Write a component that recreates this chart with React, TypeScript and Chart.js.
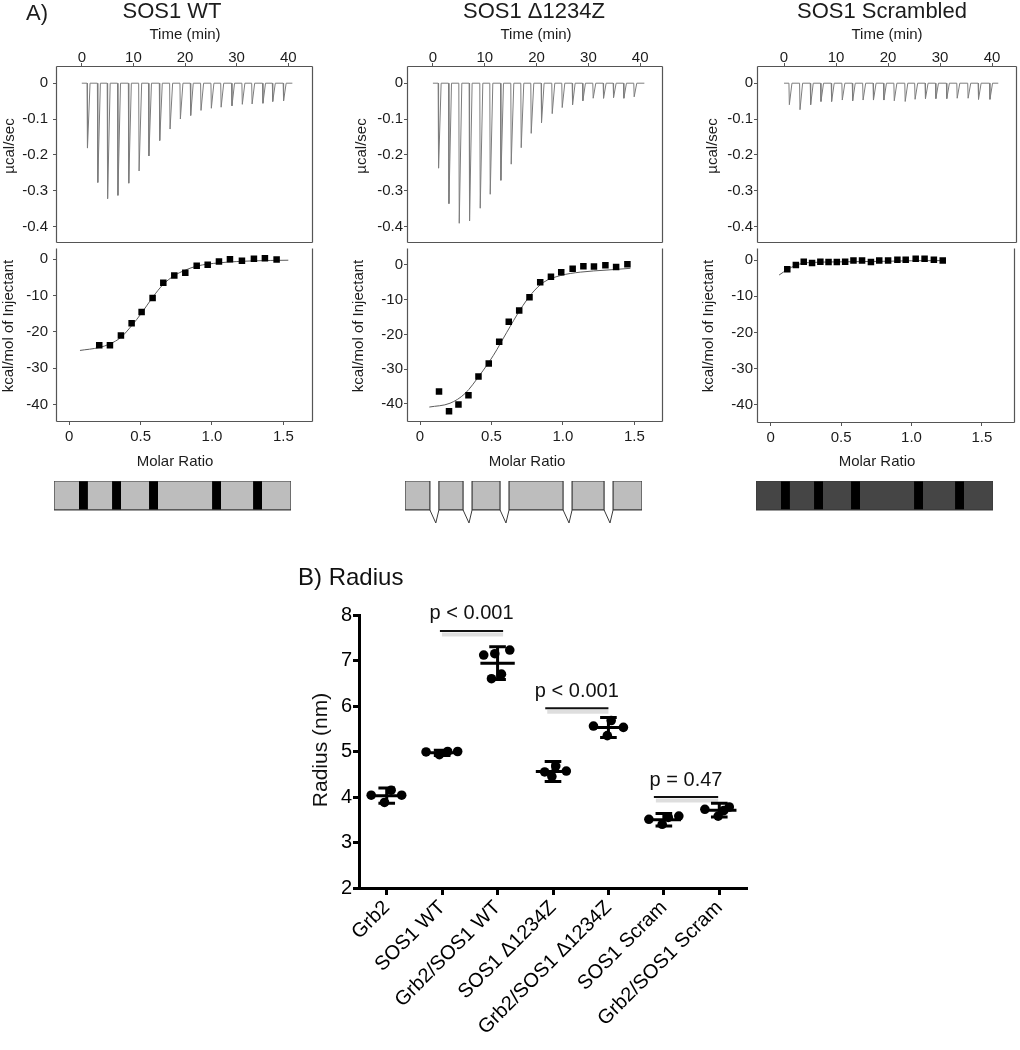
import React, { useEffect, useRef } from "react";
import { Chart, registerables } from "chart.js";

Chart.register(...registerables);

const FONT = "'Liberation Sans', Arial, Helvetica, sans-serif";
const TXT = "#1c1c1c";
const AX = "#555555";

// ---------------- Panel A : ITC data ----------------
const panelTitles = ["SOS1 WT", "SOS1 Δ1234Z", "SOS1 Scrambled"];
const timeTicks = [0, 10, 20, 30, 40];
const powerTicks = [0, -0.1, -0.2, -0.3, -0.4];
const powerTickLabels = ["0", "-0.1", "-0.2", "-0.3", "-0.4"];
const heatTicks = [0, -10, -20, -30, -40];
const heatTickLabels = ["0", "-10", "-20", "-30", "-40"];
const ratioTicks = [0, 0.5, 1.0, 1.5];
const ratioTickLabels = ["0", "0.5", "1.0", "1.5"];
const runEndTimes = [40.8, 40.8, 41.2];

// SOS1 WT
const wtInjTimes = [1.1, 3.1, 5.0, 7.0, 9.1, 11.1, 13.0, 15.1, 17.1, 19.1, 21.1, 23.1, 25.1, 27.0, 29.1, 31.1, 33.0, 35.1, 37.0, 39.1];
const wtPeaks = [-0.181, -0.277, -0.322, -0.313, -0.279, -0.245, -0.203, -0.16, -0.128, -0.1, -0.09, -0.076, -0.07, -0.067, -0.063, -0.059, -0.058, -0.056, -0.051, -0.049];
const wtRatio = [0.21, 0.285, 0.362, 0.437, 0.507, 0.584, 0.659, 0.736, 0.813, 0.893, 0.97, 1.049, 1.126, 1.21, 1.294, 1.371, 1.453];
const wtHeat = [-23.7, -23.7, -21.0, -17.6, -14.5, -10.7, -6.5, -4.5, -3.7, -1.8, -1.5, -0.6, 0.0, -0.45, 0.1, 0.27, -0.1];
const wtFitRatio = [0.075, 0.21, 0.285, 0.362, 0.437, 0.507, 0.584, 0.659, 0.736, 0.813, 0.893, 1.049, 1.29, 1.535];
const wtFitHeat = [-25.1, -24.3, -23.3, -21.5, -18.3, -14.8, -10.5, -6.9, -4.5, -3.0, -1.9, -1.0, -0.45, -0.27];

// SOS1 Δ1234Z
const dzInjTimes = [1.09, 3.09, 5.08, 7.07, 9.13, 11.06, 13.12, 15.11, 17.04, 18.97, 20.96, 23.02, 24.95, 26.95, 28.94, 30.93, 32.93, 34.86, 36.85, 38.84];
const dzPeaks = [-0.237, -0.336, -0.391, -0.384, -0.349, -0.31, -0.271, -0.226, -0.18, -0.14, -0.11, -0.085, -0.068, -0.06, -0.049, -0.042, -0.042, -0.04, -0.042, -0.038];
const dzRatio = [0.133, 0.203, 0.269, 0.339, 0.409, 0.481, 0.554, 0.621, 0.694, 0.766, 0.841, 0.916, 0.988, 1.068, 1.143, 1.217, 1.297, 1.372, 1.451];
const dzHeat = [-36.4, -42.1, -40.2, -37.5, -32.1, -28.4, -22.1, -16.4, -13.1, -9.3, -5.0, -3.4, -2.1, -1.1, -0.4, -0.5, -0.1, -0.6, 0.2];
const dzFitRatio = [0.065, 0.21, 0.315, 0.42, 0.514, 0.607, 0.701, 0.783, 0.865, 0.981, 1.121, 1.308, 1.472];
const dzFitHeat = [-40.9, -39.8, -37.0, -31.6, -26.0, -19.4, -12.9, -8.2, -5.0, -3.1, -2.1, -1.5, -1.0];

// SOS1 Scrambled
const scInjTimes = [1.02, 3.07, 5.12, 7.1, 9.15, 11.2, 13.2, 15.2, 17.2, 19.2, 21.2, 23.3, 25.2, 27.2, 29.2, 31.3, 33.3, 35.4, 37.4, 39.6];
const scPeaks = [-0.06, -0.074, -0.06, -0.051, -0.051, -0.047, -0.049, -0.047, -0.047, -0.047, -0.049, -0.051, -0.045, -0.043, -0.043, -0.043, -0.042, -0.042, -0.045, -0.045];
const scRatio = [0.118, 0.179, 0.235, 0.294, 0.353, 0.411, 0.47, 0.529, 0.588, 0.649, 0.712, 0.771, 0.834, 0.9, 0.959, 1.03, 1.093, 1.159, 1.222];
const scHeat = [-2.5, -1.3, -0.4, -0.8, -0.4, -0.5, -0.5, -0.4, -0.1, -0.1, -0.5, -0.1, -0.1, 0.1, 0.1, 0.4, 0.4, 0.1, -0.1];
const scFitRatio = [0.06, 0.118, 0.179, 0.235, 0.3, 0.5, 0.8, 1.0, 1.222];
const scFitHeat = [-4.1, -2.6, -1.4, -0.8, -0.6, -0.45, -0.3, -0.15, -0.1];

// Construct schematic: motif positions (percent of construct length)
const motifStart = [10.5, 24.5, 40.1, 66.7, 84.0];
const motifEnd = [14.3, 28.3, 43.9, 70.5, 87.8];

// ---------------- Panel B : Radius data ----------------
const radiusCategories = ["Grb2", "SOS1 WT", "Grb2/SOS1 WT", "SOS1 Δ1234Z", "Grb2/SOS1 Δ1234Z", "SOS1 Scram", "Grb2/SOS1 Scram"];
const radiusTicks = [2, 3, 4, 5, 6, 7, 8];
const grb2Radius = [4.04, 3.88, 4.15, 4.04];
const grb2Jitter = [-0.28, -0.04, 0.08, 0.27];
const sosWtRadius = [4.99, 4.93, 5.0, 5.0];
const sosWtJitter = [-0.29, -0.05, 0.1, 0.28];
const cplxWtRadius = [7.12, 7.15, 7.23, 6.6, 6.7];
const cplxWtJitter = [-0.25, -0.05, 0.22, -0.11, 0.07];
const sosDzRadius = [4.55, 4.45, 4.68, 4.57];
const sosDzJitter = [-0.15, -0.02, 0.05, 0.24];
const cplxDzRadius = [5.56, 5.35, 5.68, 5.53];
const cplxDzJitter = [-0.27, -0.02, 0.05, 0.27];
const sosScRadius = [3.51, 3.4, 3.55, 3.58];
const sosScJitter = [-0.27, -0.03, 0.08, 0.27];
const cplxScRadius = [3.73, 3.58, 3.7, 3.78];
const cplxScJitter = [-0.26, -0.02, 0.08, 0.18];
const radiusMean = [4.03, 4.97, 6.94, 4.56, 5.53, 3.5, 3.71];
const radiusSD = [0.17, 0.06, 0.36, 0.22, 0.22, 0.14, 0.15];
const sigStart = [0.96, 2.86, 4.82];
const sigEnd = [2.1, 4.0, 5.98];
const sigLevel = [7.65, 5.95, 4.0];
const sigLabels = ["p < 0.001", "p < 0.001", "p = 0.47"];

// ---------------- assembled tables ----------------
const itcData = [
  { injTimes: wtInjTimes, peaks: wtPeaks, ratio: wtRatio, heat: wtHeat, fitRatio: wtFitRatio, fitHeat: wtFitHeat },
  { injTimes: dzInjTimes, peaks: dzPeaks, ratio: dzRatio, heat: dzHeat, fitRatio: dzFitRatio, fitHeat: dzFitHeat },
  { injTimes: scInjTimes, peaks: scPeaks, ratio: scRatio, heat: scHeat, fitRatio: scFitRatio, fitHeat: scFitHeat },
];

const itcLayouts = [
  { canvasLeft: 0, areaLeft: 56, areaRight: 313, areaTop: 66, divider: 243, areaBottom: 422, titleX: 172, timeTitleX: 185, ratioTitleX: 175,
    timeMin: -5.0, timeMax: 44.8, heatMin: -44.8, heatMax: 3.2, ratioMin: -0.093, ratioMax: 1.708, yTickPad: 5, powTitleX: 10, heatTitleX: 9 },
  { canvasLeft: 340, areaLeft: 407, areaRight: 663, areaTop: 66, divider: 243, areaBottom: 422, titleX: 534, timeTitleX: 536, ratioTitleX: 527,
    timeMin: -5.0, timeMax: 44.4, heatMin: -45.2, heatMax: 4.96, ratioMin: -0.091, ratioMax: 1.7, yTickPad: 1, powTitleX: 362, heatTitleX: 359 },
  { canvasLeft: 680, areaLeft: 757, areaRight: 1017, areaTop: 66, divider: 243, areaBottom: 423, titleX: 882, timeTitleX: 887, ratioTitleX: 877,
    timeMin: -5.2, timeMax: 44.8, heatMin: -45.1, heatMax: 3.5, ratioMin: -0.097, ratioMax: 1.738, yTickPad: 1, powTitleX: 713, heatTitleX: 709 },
];

const schematicLefts = [54, 405, 756];
const schematicKinds = ["wt", "deleted", "scrambled"];

const POWER_MIN = -0.446;
const POWER_MAX = 0.048;

// ---------------- helpers ----------------
type TextItem = { text: string; x: number; y: number; size: number; align?: CanvasTextAlign; rotate?: number; color?: string };

function textPlugin(id: string, items: TextItem[]) {
  return {
    id,
    afterDraw(chart: any) {
      const ctx = chart.ctx as CanvasRenderingContext2D;
      ctx.save();
      for (const it of items) {
        ctx.save();
        ctx.font = `${it.size}px ${FONT}`;
        ctx.fillStyle = it.color || TXT;
        ctx.textAlign = it.align || "center";
        ctx.textBaseline = "middle";
        ctx.translate(it.x, it.y);
        if (it.rotate) ctx.rotate(it.rotate);
        ctx.fillText(it.text, 0, 0);
        ctx.restore();
      }
      ctx.restore();
    },
  };
}

function boxPlugin(id: string, sides: { top: boolean; right: boolean; bottom: boolean; left: boolean }) {
  return {
    id,
    afterDatasetsDraw(chart: any) {
      const { left, right, top, bottom } = chart.chartArea;
      const ctx = chart.ctx as CanvasRenderingContext2D;
      const l = Math.round(left) + 0.5, r = Math.round(right) - 0.5, t = Math.round(top) + 0.5, b = Math.round(bottom) - 0.5;
      ctx.save();
      ctx.strokeStyle = AX;
      ctx.lineWidth = 1.2;
      ctx.beginPath();
      if (sides.top) { ctx.moveTo(l, t); ctx.lineTo(r, t); }
      if (sides.right) { ctx.moveTo(r, t); ctx.lineTo(r, b); }
      if (sides.bottom) { ctx.moveTo(l, b); ctx.lineTo(r, b); }
      if (sides.left) { ctx.moveTo(l, t); ctx.lineTo(l, b); }
      ctx.stroke();
      ctx.restore();
    },
  };
}

// remove the automatic label-overflow padding so the plot area sits exactly where set
const noPad = (s: any) => { s.paddingTop = 0; s.paddingBottom = 0; s.paddingLeft = 0; s.paddingRight = 0; };

function thermogramPoints(times: number[], peaks: number[], end: number) {
  const pts: { x: number; y: number }[] = [{ x: 0, y: 0 }];
  times.forEach((t, i) => {
    pts.push({ x: t - 0.08, y: 0 }, { x: t, y: peaks[i] }, { x: t + 0.5, y: 0 });
  });
  pts.push({ x: end, y: 0 });
  return pts;
}

const tickFont = { family: FONT, size: 15 };

function makeThermo(i: number) {
  const L = itcLayouts[i];
  const d = itcData[i];
  const W = 340;
  const H = L.divider + 1;
  const ox = L.canvasLeft;
  return {
    type: "line",
    data: {
      datasets: [
        { data: thermogramPoints(d.injTimes, d.peaks, runEndTimes[i]), borderColor: "#7d7d7d", borderWidth: 1, pointRadius: 0, tension: 0, fill: false },
      ],
    },
    options: {
      responsive: false,
      animation: false,
      events: [],
      layout: { padding: { left: 0, top: 0, right: W - (L.areaRight - ox), bottom: H - L.divider } },
      plugins: { legend: { display: false }, tooltip: { enabled: false } },
      scales: {
        x: {
          type: "linear",
          position: "top",
          min: L.timeMin,
          max: L.timeMax,
          afterBuildTicks: (s: any) => { s.ticks = timeTicks.map((v) => ({ value: v })); },
          afterFit: (s: any) => { s.height = L.areaTop; noPad(s); },
          ticks: { font: tickFont, color: TXT, padding: -4, maxRotation: 0, autoSkip: false, callback: (v: any) => String(v) },
          grid: { drawOnChartArea: false, drawTicks: true, tickLength: 3, color: AX },
          border: { display: false },
        },
        y: {
          type: "linear",
          min: POWER_MIN,
          max: POWER_MAX,
          afterBuildTicks: (s: any) => { s.ticks = powerTicks.map((v) => ({ value: v })); },
          afterFit: (s: any) => { s.width = L.areaLeft - ox; noPad(s); },
          ticks: { font: tickFont, color: TXT, padding: L.yTickPad, autoSkip: false, callback: (_v: any, idx: number) => powerTickLabels[idx] },
          grid: { drawOnChartArea: false, drawTicks: true, tickLength: 3, color: AX },
          border: { display: false },
        },
      },
    },
    plugins: [
      boxPlugin("box" + i, { top: true, right: true, bottom: true, left: true }),
      textPlugin("txt" + i, [
        ...(i === 0 ? [{ text: "A)", x: 26, y: 14, size: 22, align: "left" as CanvasTextAlign }] : []),
        { text: panelTitles[i], x: L.titleX - ox, y: 12, size: 22 },
        { text: "Time (min)", x: L.timeTitleX - ox, y: 35, size: 15 },
        { text: "µcal/sec", x: L.powTitleX - ox, y: 146, size: 15, rotate: -Math.PI / 2 },
      ]),
    ],
  };
}

function makeIsotherm(i: number) {
  const L = itcLayouts[i];
  const d = itcData[i];
  const W = 340;
  const H = 475 - L.divider;
  const ox = L.canvasLeft;
  const areaH = L.areaBottom - L.divider;
  return {
    type: "line",
    data: {
      datasets: [
        {
          data: d.ratio.map((x, k) => ({ x, y: d.heat[k] })),
          showLine: false,
          pointStyle: "rect",
          pointRadius: 4.6,
          backgroundColor: "#000",
          borderColor: "#000",
          borderWidth: 0,
          order: 0,
        },
        {
          data: d.fitRatio.map((x, k) => ({ x, y: d.fitHeat[k] })),
          borderColor: "#5a5a5a",
          borderWidth: 1,
          pointRadius: 0,
          cubicInterpolationMode: "monotone",
          fill: false,
          order: 1,
        },
      ],
    },
    options: {
      responsive: false,
      animation: false,
      events: [],
      layout: { padding: { left: 0, top: 0, right: W - (L.areaRight - ox), bottom: 0 } },
      plugins: { legend: { display: false }, tooltip: { enabled: false } },
      scales: {
        x: {
          type: "linear",
          position: "bottom",
          min: L.ratioMin,
          max: L.ratioMax,
          afterBuildTicks: (s: any) => { s.ticks = ratioTicks.map((v) => ({ value: v })); },
          afterFit: (s: any) => { s.height = H - areaH; noPad(s); },
          ticks: { font: tickFont, color: TXT, padding: 3, maxRotation: 0, autoSkip: false, callback: (_v: any, idx: number) => ratioTickLabels[idx] },
          grid: { drawOnChartArea: false, drawTicks: true, tickLength: 3, color: AX },
          border: { display: false },
        },
        y: {
          type: "linear",
          min: L.heatMin,
          max: L.heatMax,
          afterBuildTicks: (s: any) => { s.ticks = heatTicks.map((v) => ({ value: v })); },
          afterFit: (s: any) => { s.width = L.areaLeft - ox; noPad(s); },
          ticks: { font: tickFont, color: TXT, padding: L.yTickPad, autoSkip: false, callback: (_v: any, idx: number) => heatTickLabels[idx] },
          grid: { drawOnChartArea: false, drawTicks: true, tickLength: 3, color: AX },
          border: { display: false },
        },
      },
    },
    plugins: [
      boxPlugin("ibox" + i, { top: false, right: true, bottom: true, left: true }),
      textPlugin("itxt" + i, [
        { text: "Molar Ratio", x: L.ratioTitleX - ox, y: 462 - L.divider, size: 15 },
        { text: "kcal/mol of Injectant", x: L.heatTitleX - ox, y: 326 - L.divider, size: 15, rotate: -Math.PI / 2 },
      ]),
    ],
  };
}

function rect(s: number, e: number) {
  return [{ x: s, y: 1 }, { x: e, y: 1 }];
}

function makeSchematic(i: number) {
  const kind = schematicKinds[i];
  const datasets: any[] = [];
  const outlineColor = "#3a3a3a";
  if (kind === "deleted") {
    const blockStarts = [0, ...motifEnd];
    const blockEnds = [...motifStart, 100];
    const outline: any[] = [];
    blockStarts.forEach((s, k) => {
      const e = blockEnds[k];
      datasets.push({ data: rect(s, e), fill: "origin", backgroundColor: "#bdbdbd", borderWidth: 0, pointRadius: 0, order: 3 });
      outline.push({ x: s, y: 0 }, { x: s, y: 1 }, { x: e, y: 1 }, { x: e, y: 0 }, { x: s, y: 0 }, { x: s, y: null });
    });
    const vees: any[] = [];
    motifStart.forEach((s, k) => {
      const e = motifEnd[k];
      vees.push({ x: s, y: 0 }, { x: (s + e) / 2 + 0.6, y: -0.45 }, { x: e, y: 0 }, { x: e, y: null });
    });
    datasets.push({ data: outline, borderColor: outlineColor, borderWidth: 1.2, pointRadius: 0, fill: false, spanGaps: false, order: 1 });
    datasets.push({ data: vees, borderColor: outlineColor, borderWidth: 1, pointRadius: 0, fill: false, spanGaps: false, order: 1 });
  } else {
    const boxColor = kind === "wt" ? "#bdbdbd" : "#454545";
    datasets.push({ data: rect(0, 100), fill: "origin", backgroundColor: boxColor, borderWidth: 0, pointRadius: 0, order: 3 });
    motifStart.forEach((s, k) => {
      datasets.push({ data: rect(s, motifEnd[k]), fill: "origin", backgroundColor: "#000", borderWidth: 0, pointRadius: 0, order: 2 });
    });
    datasets.push({
      data: [{ x: 0, y: 0 }, { x: 0, y: 1 }, { x: 100, y: 1 }, { x: 100, y: 0 }, { x: 0, y: 0 }],
      borderColor: outlineColor, borderWidth: 1.2, pointRadius: 0, fill: false, order: 1,
    });
  }
  return {
    type: "line",
    data: { datasets },
    options: {
      responsive: false,
      animation: false,
      events: [],
      layout: { padding: { left: 4, right: 4, top: 4, bottom: 4 } },
      plugins: { legend: { display: false }, tooltip: { enabled: false } },
      scales: {
        x: { type: "linear", min: 0, max: 100, display: false },
        y: { type: "linear", min: -0.52, max: 1, display: false },
      },
    },
  };
}

function makeRadius() {
  const W = 470, H = 495, ox = 290, oy = 555;
  const groupValues = [grb2Radius, sosWtRadius, cplxWtRadius, sosDzRadius, cplxDzRadius, sosScRadius, cplxScRadius];
  const groupJitter = [grb2Jitter, sosWtJitter, cplxWtJitter, sosDzJitter, cplxDzJitter, sosScJitter, cplxScJitter];
  const points = groupValues.flatMap((vals, g) => vals.map((v, k) => ({ x: g + groupJitter[g][k], y: v })));
  const CAP = 0.15;
  const MEANW = 0.31;
  const vert = radiusMean.flatMap((m, g) => [{ x: g, y: m - radiusSD[g] }, { x: g, y: m + radiusSD[g] }, { x: g, y: null }]);
  const caps = radiusMean.flatMap((m, g) => [
    { x: g - CAP, y: m + radiusSD[g] }, { x: g + CAP, y: m + radiusSD[g] }, { x: g, y: null },
    { x: g - CAP, y: m - radiusSD[g] }, { x: g + CAP, y: m - radiusSD[g] }, { x: g, y: null },
  ]);
  const means = radiusMean.flatMap((m, g) => [{ x: g - MEANW, y: m }, { x: g + MEANW, y: m }, { x: g, y: null }]);
  const lineDs = (data: any[]) => ({ data, showLine: true, borderColor: "#000", borderWidth: 3, pointRadius: 0, spanGaps: false, order: 1 });

  const sigPlugin = {
    id: "sig",
    afterDatasetsDraw(chart: any) {
      const ctx = chart.ctx as CanvasRenderingContext2D;
      const sx = chart.scales.x, sy = chart.scales.y;
      ctx.save();
      sigLevel.forEach((h, k) => {
        const x1 = sx.getPixelForValue(sigStart[k]);
        const x2 = sx.getPixelForValue(sigEnd[k]);
        const y = sy.getPixelForValue(h);
        ctx.strokeStyle = "rgba(0,0,0,0.13)";
        ctx.lineWidth = 4;
        ctx.beginPath(); ctx.moveTo(x1 + 2, y + 3.5); ctx.lineTo(x2, y + 3.5); ctx.stroke();
        ctx.strokeStyle = "#111";
        ctx.lineWidth = 2;
        ctx.beginPath(); ctx.moveTo(x1, y); ctx.lineTo(x2, y); ctx.stroke();
        ctx.font = `20px ${FONT}`;
        ctx.fillStyle = "#111";
        ctx.textAlign = "center";
        ctx.textBaseline = "middle";
        ctx.fillText(sigLabels[k], (x1 + x2) / 2, y - 17);
      });
      ctx.restore();
    },
  };

  return {
    type: "scatter",
    data: {
      datasets: [
        { data: points, pointRadius: 4.8, backgroundColor: "#000", borderWidth: 0, order: 0 },
        lineDs(vert),
        lineDs(caps),
        lineDs(means),
      ],
    },
    options: {
      responsive: false,
      animation: false,
      events: [],
      layout: { padding: { left: 0, top: 615 - oy, right: W - (747 - ox), bottom: 0 } },
      plugins: { legend: { display: false }, tooltip: { enabled: false } },
      scales: {
        x: {
          type: "linear",
          min: -0.5,
          max: 6.5,
          afterBuildTicks: (s: any) => { s.ticks = radiusCategories.map((_c, k) => ({ value: k })); },
          afterFit: (s: any) => { s.height = H - (888 - oy); noPad(s); },
          ticks: { font: { family: FONT, size: 20 }, color: "#000", minRotation: 45, maxRotation: 45, autoSkip: false, padding: 1, callback: (_v: any, idx: number) => radiusCategories[idx] },
          grid: { drawOnChartArea: false, drawTicks: true, tickLength: 7, tickWidth: 3, tickColor: "#000" },
          border: { display: true, width: 3, color: "#000" },
        },
        y: {
          type: "linear",
          min: 2,
          max: 8,
          afterBuildTicks: (s: any) => { s.ticks = radiusTicks.map((v) => ({ value: v })); },
          afterFit: (s: any) => { s.width = 359 - ox; noPad(s); },
          ticks: { font: { family: FONT, size: 20 }, color: "#000", padding: 1, callback: (v: any) => String(v) },
          grid: { drawOnChartArea: false, drawTicks: true, tickLength: 6, tickWidth: 3, tickColor: "#000" },
          border: { display: true, width: 3, color: "#000" },
        },
      },
    },
    plugins: [
      sigPlugin,
      textPlugin("rtxt", [
        { text: "B) Radius", x: 298 - ox, y: 578 - oy, size: 24, align: "left", color: "#111" },
        { text: "Radius (nm)", x: 321 - ox, y: 750 - oy, size: 21, rotate: -Math.PI / 2, color: "#111" },
      ]),
    ],
  };
}

function ChartCanvas({ left, top, width, height, make }: { left: number; top: number; width: number; height: number; make: () => any }) {
  const ref = useRef<HTMLCanvasElement | null>(null);
  useEffect(() => {
    if (!ref.current) return;
    const chart = new Chart(ref.current, make());
    return () => chart.destroy();
  }, []);
  return (
    <canvas
      ref={ref}
      width={width}
      height={height}
      style={{ position: "absolute", left, top, width, height, display: "block" }}
    />
  );
}

export default function App() {
  return (
    <div style={{ position: "absolute", left: 0, top: 0, width: 1020, height: 1050, background: "#fff", overflow: "hidden" }}>
      {itcLayouts.map((L, i) => (
        <React.Fragment key={i}>
          <ChartCanvas left={L.canvasLeft} top={0} width={340} height={L.divider + 1} make={() => makeThermo(i)} />
          <ChartCanvas left={L.canvasLeft} top={L.divider} width={340} height={475 - L.divider} make={() => makeIsotherm(i)} />
          <ChartCanvas left={schematicLefts[i] - 4} top={477} width={245} height={52} make={() => makeSchematic(i)} />
        </React.Fragment>
      ))}
      <ChartCanvas left={290} top={555} width={470} height={495} make={makeRadius} />
    </div>
  );
}
